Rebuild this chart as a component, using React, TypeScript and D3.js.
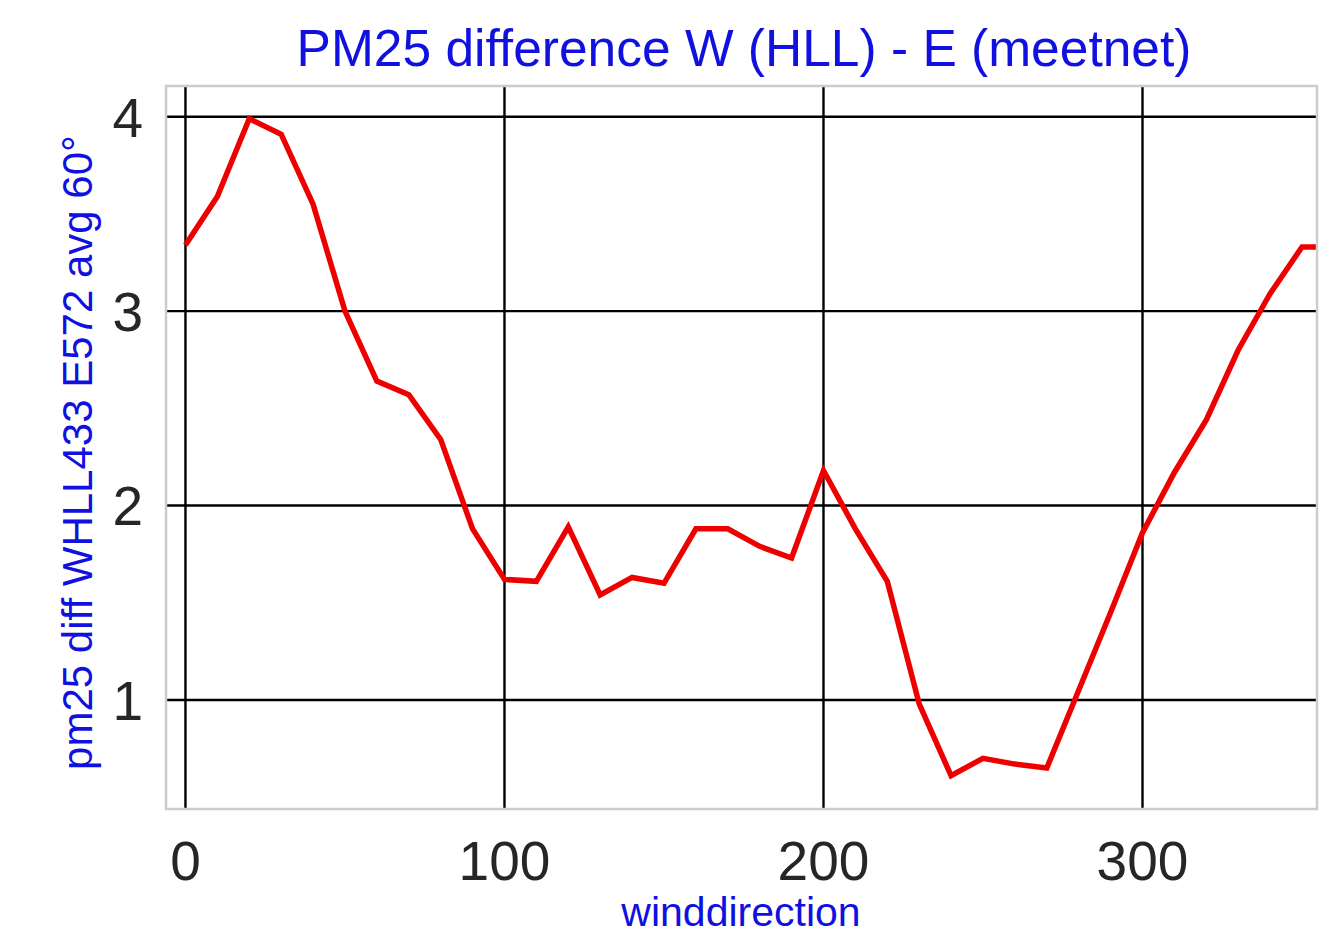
import React, { useEffect } from "react";
import * as d3 from "d3";

const windDirections = [0, 10, 20, 30, 40, 50, 60, 70, 80, 90, 100, 110, 120, 130, 140, 150, 160, 170, 180, 190, 200, 210, 220, 230, 240, 250, 260, 270, 280, 290, 300, 310, 320, 330, 340, 350, 360];
const pm25Diff = [3.34, 3.59, 3.99, 3.91, 3.55, 3.0, 2.64, 2.57, 2.34, 1.88, 1.62, 1.61, 1.89, 1.54, 1.63, 1.6, 1.88, 1.88, 1.79, 1.73, 2.18, 1.88, 1.61, 0.98, 0.61, 0.7, 0.67, 0.65, 1.05, 1.45, 1.86, 2.17, 2.44, 2.8, 3.09, 3.33, 3.33];
const xTicks = [0, 100, 200, 300];
const yTicks = [1, 2, 3, 4];
const titleText = "PM25 difference W (HLL) - E (meetnet)";
const xLabel = "winddirection";
const yLabel = "pm25 diff WHLL433 E572 avg 60°";

export default function App() {
  useEffect(() => {
    document.body.style.margin = "0";
  }, []);

  const W = 1333, H = 934;
  const left = 166, right = 1317, top = 86, bottom = 809;
  const x = d3.scaleLinear().domain([-6.1, 354.7]).range([left, right]);
  const y = d3.scaleLinear().domain([0.439, 4.158]).range([bottom, top]);
  const pts = windDirections.map((d, i) => [d, pm25Diff[i]] as [number, number]);
  const line = d3.line<[number, number]>().x(d => x(d[0])).y(d => y(d[1]));
  const font = "'Liberation Sans', Arial, sans-serif";

  return (
    <svg width={W} height={H} style={{ display: "block", background: "#fff" }} fontFamily={font}>
      <defs>
        <clipPath id="plot-clip">
          <rect x={left} y={top} width={right - left} height={bottom - top} />
        </clipPath>
      </defs>
      <rect x={left} y={top} width={right - left} height={bottom - top} fill="#fff" />
      {xTicks.map(t => (
        <line key={"gx" + t} x1={x(t)} x2={x(t)} y1={top} y2={bottom} stroke="#000" strokeWidth={2.4} />
      ))}
      {yTicks.map(t => (
        <line key={"gy" + t} x1={left} x2={right} y1={y(t)} y2={y(t)} stroke="#000" strokeWidth={2.4} />
      ))}
      <path d={line(pts) || ""} fill="none" stroke="#ee0000" strokeWidth={5.5} strokeLinejoin="miter" clipPath="url(#plot-clip)" />
      <rect x={left} y={top} width={right - left} height={bottom - top} fill="none" stroke="#cccccc" strokeWidth={2.5} />
      {xTicks.map(t => (
        <text key={"tx" + t} x={x(t)} y={880} textAnchor="middle" fontSize={55} fill="#262626">{t}</text>
      ))}
      {yTicks.map(t => (
        <text key={"ty" + t} x={143} y={y(t)} dy="0.36em" textAnchor="end" fontSize={55} fill="#262626">{t}</text>
      ))}
      <text x={744} y={66} textAnchor="middle" fontSize={51.5} fill="#1010e0">{titleText}</text>
      <text x={741} y={926} textAnchor="middle" fontSize={41} fill="#1010e0">{xLabel}</text>
      <text transform={`translate(92,${(top + bottom) / 2 + 5}) rotate(-90)`} textAnchor="middle" fontSize={42} fill="#1010e0">{yLabel}</text>
    </svg>
  );
}
